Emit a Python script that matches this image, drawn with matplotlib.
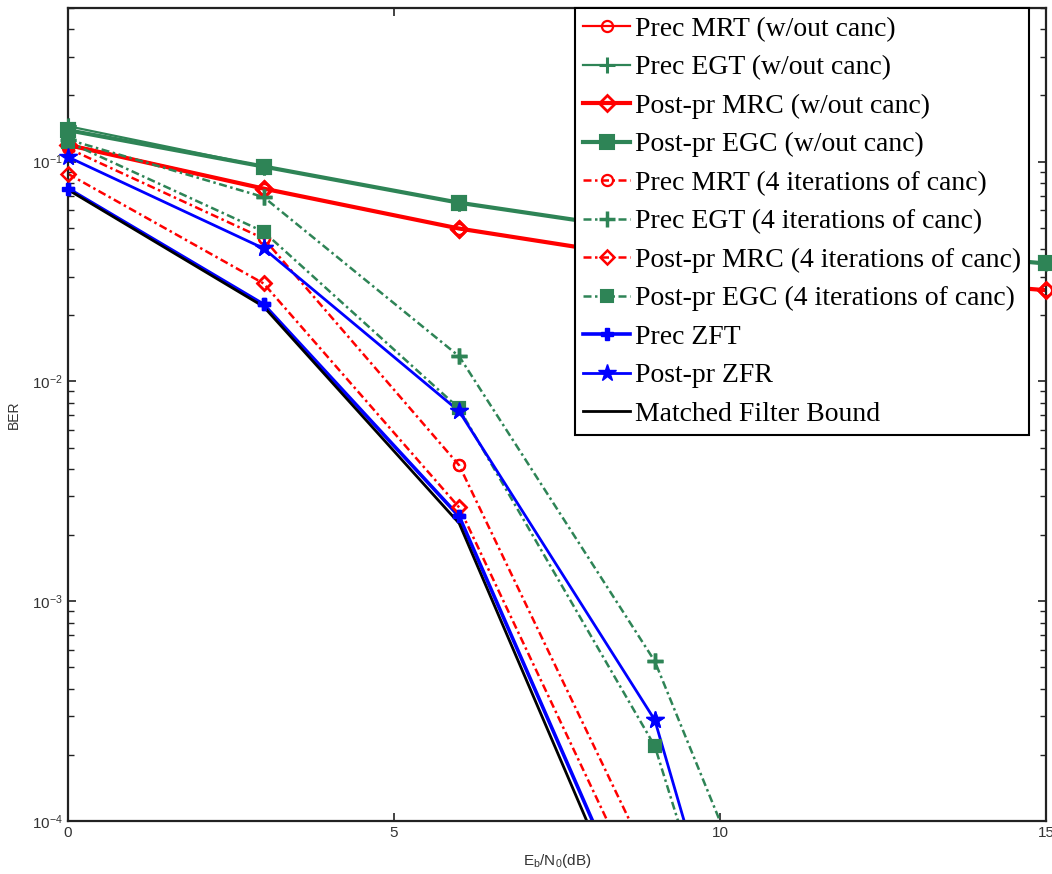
import numpy as np
import matplotlib
matplotlib.use("Agg")
import matplotlib.pyplot as plt

# ---------------- data ----------------
snr = [0, 3, 6, 9, 12, 15]
ber_prec_mrt_wo = [0.120, 0.0754, 0.0496, 0.0360, 0.0306, 0.0260]
ber_prec_egt_wo = [0.145, 0.0950, 0.0650, 0.0480, 0.0410, 0.0344]
ber_post_mrc_wo = [0.119, 0.0754, 0.0496, 0.0360, 0.0306, 0.0260]
ber_post_egc_wo = [0.139, 0.0950, 0.0650, 0.0480, 0.0410, 0.0344]

snr_c = [0, 3, 6, 9, 12]
ber_prec_mrt_c = [0.115, 0.0447, 0.00415, 5.8e-5, 1e-7]
ber_prec_egt_c = [0.126, 0.0690, 0.0130, 5.33e-4, 3.5e-6]
ber_post_mrc_c = [0.088, 0.0279, 0.00267, 3.5e-5, 1e-7]
ber_post_egc_c = [0.123, 0.0480, 0.00753, 2.19e-4, 3e-7]
ber_zft = [0.0754, 0.0224, 0.00243, 2.26e-5, 1e-7]
ber_zfr = [0.105, 0.0403, 0.00731, 2.88e-4, 2.5e-7]
ber_mfb = [0.0745, 0.0219, 0.00226, 1.9e-5, 1e-7]

labels = ["Prec MRT (w/out canc)", "Prec EGT (w/out canc)",
          "Post-pr MRC (w/out canc)", "Post-pr EGC (w/out canc)",
          "Prec MRT (4 iterations of canc)", "Prec EGT (4 iterations of canc)",
          "Post-pr MRC (4 iterations of canc)", "Post-pr EGC (4 iterations of canc)",
          "Prec ZFT", "Post-pr ZFR", "Matched Filter Bound"]

x_ticks = [0, 5, 10, 15]

# ---------------- style ----------------
plt.rcParams['font.family'] = ['Liberation Sans', 'DejaVu Sans']
RED = '#FF0000'
GREEN = '#2E8456'
BLUE = '#0000FF'
DD = (0, (3.2, 1.4, 1.0, 1.4))

YMIN = 1e-4
YMAX = 0.5

fig = plt.figure(figsize=(10.52, 8.74), dpi=100)
ax = fig.add_axes([68 / 1052, (874 - 821) / 874, (1046 - 68) / 1052, 813 / 874])
ax.set_yscale('log')

series = [
    (snr, ber_prec_mrt_wo, dict(color=RED, ls='-', lw=1.6, marker='o', ms=8, mfc='none', mew=1.6)),
    (snr, ber_prec_egt_wo, dict(color=GREEN, ls='-', lw=1.6, marker='+', ms=11, mew=2.2)),
    (snr, ber_post_mrc_wo, dict(color=RED, ls='-', lw=3.0, marker='D', ms=8, mfc='none', mew=2.0)),
    (snr, ber_post_egc_wo, dict(color=GREEN, ls='-', lw=3.0, marker='s', ms=10, mfc=GREEN, mew=1.5)),
    (snr_c, ber_prec_mrt_c, dict(color=RED, ls=DD, lw=1.8, marker='o', ms=8, mfc='none', mew=1.6)),
    (snr_c, ber_prec_egt_c, dict(color=GREEN, ls=DD, lw=1.8, marker='+', ms=11, mew=2.5)),
    (snr_c, ber_post_mrc_c, dict(color=RED, ls=DD, lw=1.8, marker='D', ms=7.5, mfc='none', mew=1.8)),
    (snr_c, ber_post_egc_c, dict(color=GREEN, ls=DD, lw=1.8, marker='s', ms=9, mfc=GREEN, mew=1.5)),
    (snr_c, ber_zft, dict(color=BLUE, ls='-', lw=2.6, marker='P', ms=8, mew=1.0)),
    (snr_c, ber_zfr, dict(color=BLUE, ls='-', lw=2.0, marker='*', ms=13, mew=1.0)),
    (snr_c, ber_mfb, dict(color='black', ls='-', lw=2.0)),
]

handles = []
for (xs, ys, st), lab in zip(series, labels):
    h, = ax.plot(xs, ys, label=lab, **st)
    handles.append(h)
    # unclipped markers for the points inside the visible range
    if 'marker' in st:
        xa = np.array(xs, dtype=float)
        ya = np.array(ys, dtype=float)
        m = ya >= YMIN
        mst = dict(st)
        mst['ls'] = 'none'
        ax.plot(xa[m], ya[m], clip_on=False, zorder=3, **mst)

ax.set_xlim(0, 15)
ax.set_ylim(YMIN, YMAX)
ax.set_xticks(x_ticks)
ax.set_xticklabels([str(t) for t in x_ticks])

for s in ax.spines.values():
    s.set_linewidth(1.6)
    s.set_color('#222222')

ax.tick_params(which='both', direction='in', top=True, right=True,
               colors='#222222', labelcolor='#333333', labelsize=11)
ax.tick_params(which='major', length=6, width=1.2)
ax.tick_params(which='minor', length=4, width=1.0)
ax.xaxis.set_minor_locator(matplotlib.ticker.NullLocator())

ax.set_xlabel(r'E$_\mathregular{b}$/N$_\mathregular{0}$(dB)', fontsize=11, color='#333333', labelpad=9)
ax.set_ylabel('BER', fontsize=10, color='#333333', labelpad=8)

leg = ax.legend(handles=handles, loc='upper right',
                bbox_to_anchor=(0.9826, 1.0), borderaxespad=0,
                prop={'family': 'Liberation Serif', 'size': 20},
                handlelength=1.7, handletextpad=0.15, labelspacing=0.47,
                borderpad=0.3, fancybox=False, framealpha=1, edgecolor='black')
leg.get_frame().set_linewidth(1.5)

fig.savefig('out.png', dpi=100)
